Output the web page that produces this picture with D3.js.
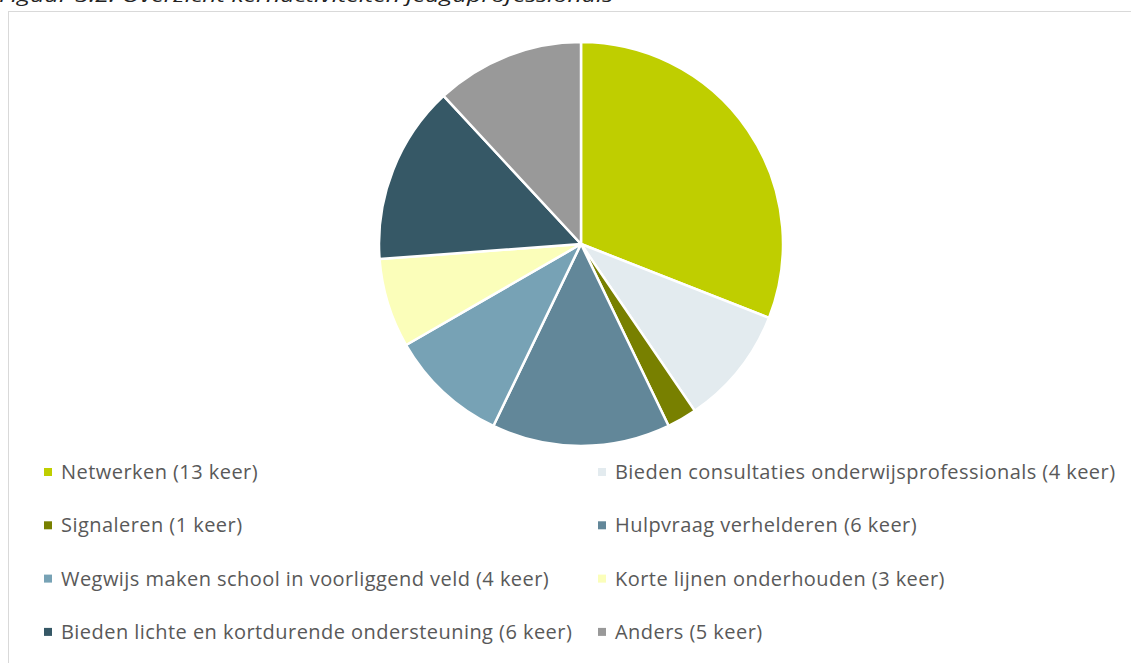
<!DOCTYPE html>
<html>
<head>
<meta charset="utf-8">
<script src="https://cdn.jsdelivr.net/npm/d3@7"></script>
<style>
  body { margin: 0; background: #fff; }
  svg { display: block; }
</style>
</head>
<body>
<svg width="1131" height="663"></svg>
<script>
// data
var categories = [
    "Netwerken (13 keer)",
    "Bieden consultaties onderwijsprofessionals (4 keer)",
    "Signaleren (1 keer)",
    "Hulpvraag verhelderen (6 keer)",
    "Wegwijs maken school in voorliggend veld (4 keer)",
    "Korte lijnen onderhouden (3 keer)",
    "Bieden lichte en kortdurende ondersteuning (6 keer)",
    "Anders (5 keer)"
];
var counts = [13, 4, 1, 6, 4, 3, 6, 5];
var colors = ["#BFCE00", "#E3EBEF", "#788000", "#628799", "#77A2B5", "#FBFEBA", "#365866", "#999999"];

var svg = d3.select("svg");

// caption, cut off at the top of the page (as in the original)
svg.append("text")
    .attr("x", -1)
    .attr("y", 2)
    .attr("font-family", "'Open Sans', sans-serif")
    .attr("font-style", "italic")
    .attr("font-size", 18)
    .attr("textLength", 614)
    .attr("lengthAdjust", "spacingAndGlyphs")
    .attr("fill", "#222")
    .text("Figuur 3.2: Overzicht kernactiviteiten jeugdprofessionals");

// chart frame
svg.append("rect")
    .attr("x", 8.5)
    .attr("y", 11.5)
    .attr("width", 1140)
    .attr("height", 700)
    .attr("fill", "#fff")
    .attr("stroke", "#d9d9d9")
    .attr("stroke-width", 1);

var data = categories.map(function(c, i) {
    return { name: c, value: counts[i], color: colors[i] };
});

/* ==================== PIE ==================== */

var cx = 581, cy = 244, radius = 202;

var pie = d3.pie()
    .sort(null)
    .value(function(d) { return d.value; });

var arc = d3.arc()
    .innerRadius(0)
    .outerRadius(radius);

var g = svg.append("g").attr("transform", "translate(" + cx + "," + cy + ")");

g.selectAll("path")
    .data(pie(data))
    .enter().append("path")
    .attr("d", arc)
    .attr("fill", function(d) { return d.data.color; })
    .attr("stroke", "#fff")
    .attr("stroke-width", 2.5)
    .attr("stroke-linejoin", "round");

/* ==================== LEGEND ==================== */

var legend = svg.append("g")
    .selectAll("g")
    .data(data)
    .enter().append("g")
    .attr("transform", function(d, i) {
        var col = i % 2, row = Math.floor(i / 2);
        return "translate(" + (col === 0 ? 44 : 598) + "," + (472 + row * 53.3) + ")";
    });

legend.append("rect")
    .attr("x", 0)
    .attr("y", -4)
    .attr("width", 8)
    .attr("height", 8)
    .attr("fill", function(d) { return d.color; });

legend.append("text")
    .attr("x", 17)
    .attr("y", 0)
    .attr("dy", "0.35em")
    .attr("font-family", "'Open Sans', sans-serif")
    .attr("font-size", 20)
    .attr("letter-spacing", 0.45)
    .attr("fill", "#595959")
    .text(function(d) { return d.name; });
</script>
</body>
</html>
